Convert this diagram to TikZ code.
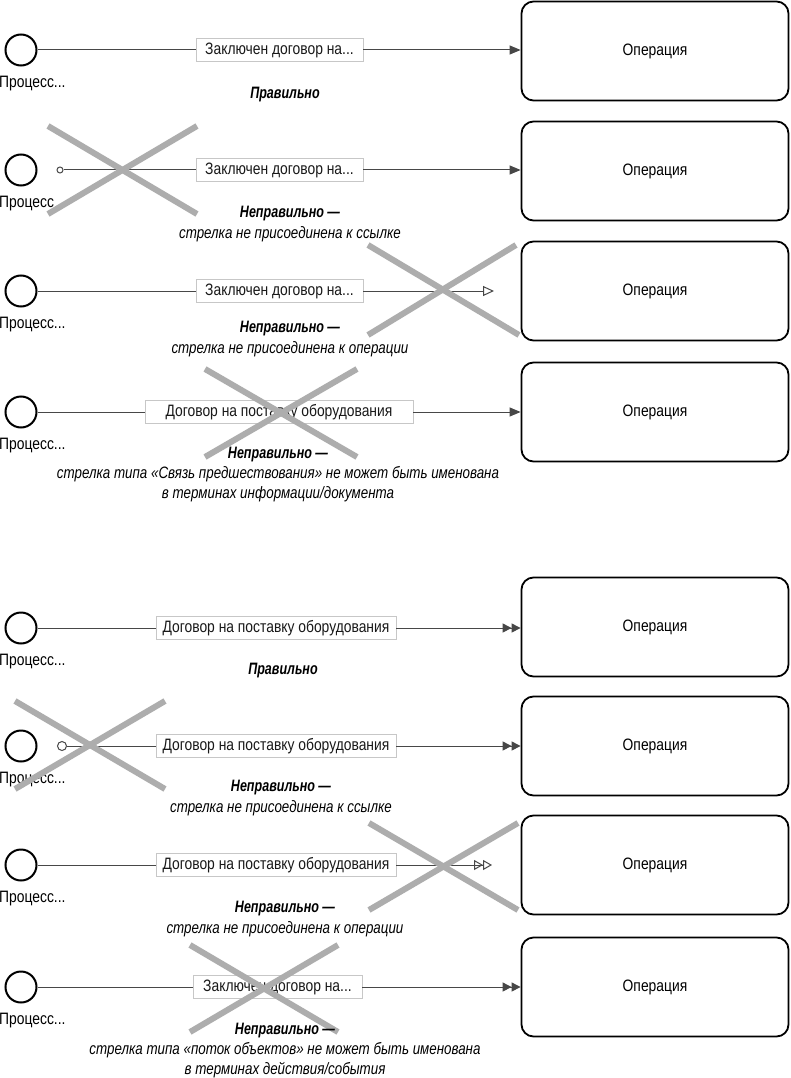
\documentclass[tikz,border=0pt]{standalone}
\usepackage{fontspec}
\setmainfont{Liberation Sans}[FakeStretch=0.84]
\newfontfamily\verdictfont{Liberation Sans}[FakeStretch=0.76]
\newfontfamily\notefont{Liberation Sans}[FakeStretch=0.81]
\usetikzlibrary{arrows.meta}
\tikzset{
  start/.style={circle, draw=black, line width=2pt, minimum size=31pt, inner sep=0pt},
  plabel/.style={anchor=west, inner sep=0pt, font=\fontsize{16.5}{18}\selectfont},
  lbl/.style={draw=black!22, fill=white, line width=0.7pt, minimum height=23pt, inner sep=0pt, font=\fontsize{16.5}{18}\selectfont, text=black!90},
  op/.style={draw=black, rounded corners=12pt, line width=1.8pt, minimum width=267pt, minimum height=99pt, font=\fontsize{16.5}{18}\selectfont},
  link/.style={draw=black!72, line width=1pt},
  dot/.style={circle, draw=black!72, fill=white, line width=1pt, inner sep=0pt},
  tipf/.style={-{Triangle[length=11pt,width=9pt]}},
  tipff/.style={-{Triangle[length=9pt,width=9pt]Triangle[length=9pt,width=9pt]}},
  tipo/.style={-{Triangle[open,length=11pt,width=10pt]}},
  tipoo/.style={-{Triangle[open,length=9pt,width=10pt]Triangle[open,length=9pt,width=10pt]}},
  cross/.style={draw=black!32, line width=6pt},
  verdict/.style={inner sep=0pt, font=\verdictfont\fontsize{16.5}{18}\bfseries\itshape\selectfont},
  note/.style={inner sep=0pt, align=center, font=\notefont\fontsize{16.5}{19.5}\itshape\selectfont},
}
\begin{document}
\begin{tikzpicture}[x=1pt,y=-1pt]
\useasboundingbox[fill=white] (0,0) rectangle (790,1078);

% ---------- Row 1 ----------
\node[start] (s1) at (21,50) {};
\node[plabel] (p1) at (-1,84) {Процесс...};
\node[lbl, minimum width=167pt] (l1) at (279.5,50) {Заключен договор на...};
\node[op] (o1) at (655,51) {Операция};
\draw[link] (s1) -- (l1);
\draw[link, tipf] (l1) -- (o1.west |- l1);
\node[verdict] (v1) at (285,95) {Правильно};

% ---------- Row 2 ----------
\node[start] (s2) at (21,170) {};
\node[plabel] (p2) at (-1,204) {Процесс};
\node[dot, minimum size=6pt] (d2) at (60,170) {};
\node[lbl, minimum width=167pt] (l2) at (279.5,170) {Заключен договор на...};
\node[op] (o2) at (655,171) {Операция};
\draw[link] (d2) -- (l2);
\draw[link, tipf] (l2) -- (o2.west |- l2);
\draw[cross] (48,126) -- (197,214);
\draw[cross] (197,126) -- (48,214);
\node[verdict] (v2) at (290,214) {Неправильно —};
\node[note] (n2) at (290,234) {стрелка не присоединена к ссылке};

% ---------- Row 3 ----------
\node[start] (s3) at (21,291) {};
\node[plabel] (p3) at (-1,325) {Процесс...};
\node[lbl, minimum width=167pt] (l3) at (279.5,291) {Заключен договор на...};
\node[op] (o3) at (655,291) {Операция};
\coordinate (e3) at (494,291);
\draw[link] (s3) -- (l3);
\draw[link, tipo] (l3) -- (e3);
\draw[cross] (368,245) -- (519,335);
\draw[cross] (516,245) -- (368,335);
\node[verdict] (v3) at (290,329) {Неправильно —};
\node[note] (n3) at (290,349) {стрелка не присоединена к операции};

% ---------- Row 4 ----------
\node[start] (s4) at (21,412) {};
\node[plabel] (p4) at (-1,446) {Процесс...};
\node[lbl, minimum width=268pt] (l4) at (279,412) {Договор на поставку оборудования};
\node[op] (o4) at (655,412) {Операция};
\draw[link] (s4) -- (l4);
\draw[link, tipf] (l4) -- (o4.west |- l4);
\draw[cross] (205,369) -- (357,457);
\draw[cross] (357,369) -- (205,457);
\node[verdict] (v4) at (278,455) {Неправильно —};
\node[note] (n4) at (278,484) {стрелка типа «Связь предшествования» не может быть именована\\в терминах информации/документа};

% ---------- Row 5 ----------
\node[start] (s5) at (21,628) {};
\node[plabel] (p5) at (-1,662) {Процесс...};
\node[lbl, minimum width=240pt] (l5) at (276,628) {Договор на поставку оборудования};
\node[op] (o5) at (655,627) {Операция};
\draw[link] (s5) -- (l5);
\draw[link, tipff] (l5) -- (o5.west |- l5);
\node[verdict] (v5) at (283,671) {Правильно};

% ---------- Row 6 ----------
\node[start] (s6) at (21,746) {};
\node[plabel] (p6) at (-1,780) {Процесс...};
\node[dot, minimum size=9pt] (d6) at (62,746) {};
\node[lbl, minimum width=240pt] (l6) at (276,746) {Договор на поставку оборудования};
\node[op] (o6) at (655,746) {Операция};
\draw[link] (d6) -- (l6);
\draw[link, tipff] (l6) -- (o6.west |- l6);
\draw[cross] (15,701) -- (165,789);
\draw[cross] (165,701) -- (15,789);
\node[verdict] (v6) at (281,788) {Неправильно —};
\node[note] (n6) at (281,808) {стрелка не присоединена к ссылке};

% ---------- Row 7 ----------
\node[start] (s7) at (21,865) {};
\node[plabel] (p7) at (-1,899) {Процесс...};
\node[lbl, minimum width=240pt] (l7) at (276,865) {Договор на поставку оборудования};
\node[op] (o7) at (655,865) {Операция};
\coordinate (e7) at (492,865);
\draw[link] (s7) -- (l7);
\draw[link, tipoo] (l7) -- (e7);
\draw[cross] (369,823) -- (518,910);
\draw[cross] (518,823) -- (369,910);
\node[verdict] (v7) at (285,909) {Неправильно —};
\node[note] (n7) at (285,929) {стрелка не присоединена к операции};

% ---------- Row 8 ----------
\node[start] (s8) at (21,987) {};
\node[plabel] (p8) at (-1,1021) {Процесс...};
\node[lbl, minimum width=169pt] (l8) at (277.5,987) {Заключен договор на...};
\node[op] (o8) at (655,987) {Операция};
\draw[link] (s8) -- (l8);
\draw[link, tipff] (l8) -- (o8.west |- l8);
\draw[cross] (190,945) -- (338,1032);
\draw[cross] (338,945) -- (190,1032);
\node[verdict] (v8) at (285,1031) {Неправильно —};
\node[note] (n8) at (285,1060) {стрелка типа «поток объектов» не может быть именована\\в терминах действия/события};
\end{tikzpicture}
\end{document}
